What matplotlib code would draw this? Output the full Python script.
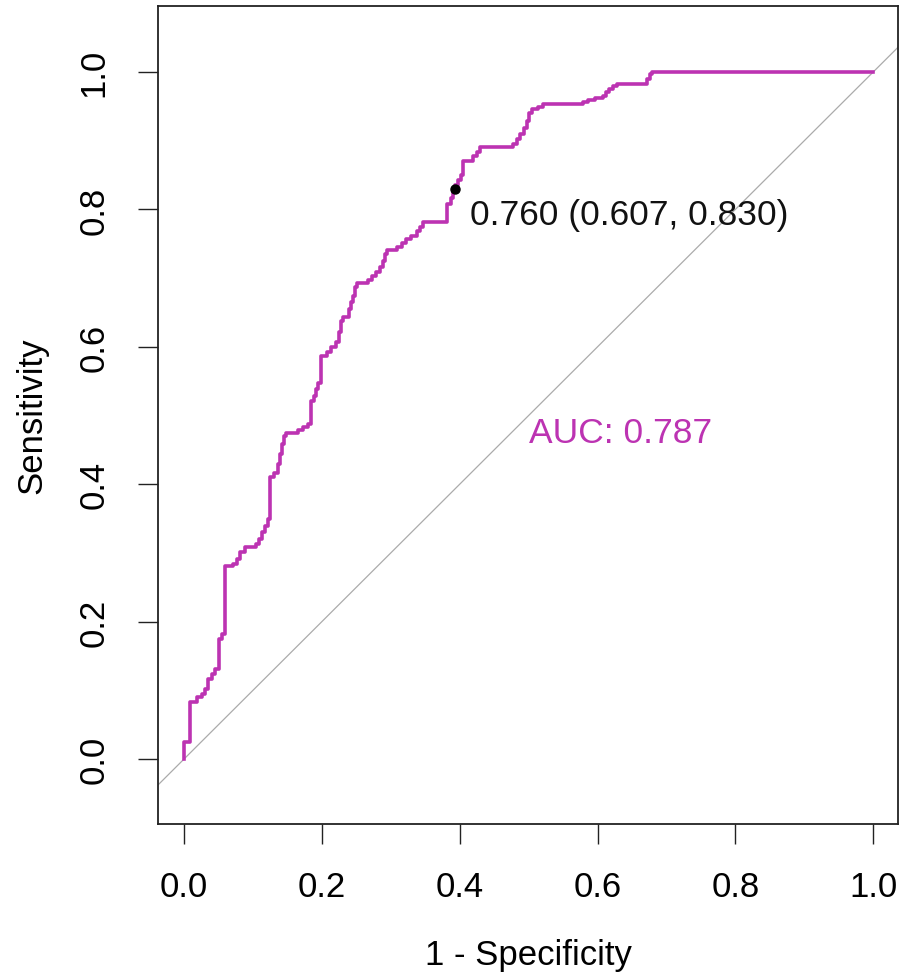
import matplotlib
matplotlib.use("Agg")
import matplotlib.pyplot as plt

plt.rcParams["font.family"] = ["Liberation Sans", "DejaVu Sans"]

# ROC curve corners (1 - specificity, sensitivity), drawn as steps
fpr = [0.0, 0.0087, 0.0189, 0.0261, 0.0305, 0.0348, 0.0406, 0.0450, 0.0508, 0.0552,
       0.0595, 0.0711, 0.0769, 0.0813, 0.0885, 0.1045, 0.1089, 0.1132, 0.1176, 0.1219,
       0.1248, 0.1306, 0.1364, 0.1393, 0.1422, 0.1451, 0.1480, 0.1655, 0.1727, 0.1800,
       0.1843, 0.1887, 0.1916, 0.1945, 0.1988, 0.2075, 0.2134, 0.2206, 0.2250, 0.2279,
       0.2308, 0.2395, 0.2424, 0.2453, 0.2482, 0.2511, 0.2671, 0.2729, 0.2787, 0.2845,
       0.2888, 0.2917, 0.2946, 0.3091, 0.3164, 0.3222, 0.3295, 0.3382, 0.3425, 0.3469,
       0.3817, 0.3875, 0.3904, 0.3933, 0.3977, 0.4020, 0.4049, 0.4194, 0.4253, 0.4296,
       0.4775, 0.4833, 0.4877, 0.4935, 0.4978, 0.5007, 0.5051, 0.5138, 0.5210, 0.5791,
       0.5864, 0.5965, 0.6081, 0.6125, 0.6168, 0.6226, 0.6284, 0.6720, 0.6763, 0.6792,
       1.0]
tpr = [0.0, 0.0247, 0.0830, 0.0902, 0.0946, 0.1019, 0.1164, 0.1237, 0.1310, 0.1747,
       0.1820, 0.2809, 0.2838, 0.2911, 0.3013, 0.3086, 0.3130, 0.3202, 0.3304, 0.3392,
       0.3493, 0.4105, 0.4163, 0.4294, 0.4440, 0.4585, 0.4702, 0.4745, 0.4789, 0.4833,
       0.4876, 0.5211, 0.5284, 0.5386, 0.5473, 0.5866, 0.5924, 0.5997, 0.6070, 0.6215,
       0.6376, 0.6434, 0.6550, 0.6652, 0.6739, 0.6870, 0.6929, 0.6972, 0.7031, 0.7089,
       0.7162, 0.7249, 0.7351, 0.7409, 0.7453, 0.7511, 0.7569, 0.7613, 0.7686, 0.7744,
       0.7817, 0.8079, 0.8166, 0.8253, 0.8355, 0.8428, 0.8501, 0.8705, 0.8777, 0.8836,
       0.8908, 0.8952, 0.9025, 0.9098, 0.9185, 0.9287, 0.9403, 0.9461, 0.9491, 0.9534,
       0.9563, 0.9592, 0.9622, 0.9651, 0.9709, 0.9753, 0.9796, 0.9825, 0.9898, 0.9971,
       1.0]

# best threshold point
best_thr = 0.760
best_spec = 0.607
best_sens = 0.830
auc = 0.787

ticks = [0.0, 0.2, 0.4, 0.6, 0.8, 1.0]
col = "#BC33B2"

fig = plt.figure(figsize=(9, 9.78), dpi=100)
ax = fig.add_axes([0.1756, 0.1564, 0.8222, 0.8364])

ax.axline((0, 0), (1, 1), color="#ABABAB", lw=0.9, zorder=1)
ax.plot(fpr, tpr, drawstyle="steps-pre", color=col, lw=2.6, zorder=2)
ax.plot([1 - best_spec], [best_sens], "o", color="black", ms=6.5, zorder=3)
ax.text(1 - best_spec + 0.022, best_sens - 0.037,
        "%.3f (%.3f, %.3f)" % (best_thr, best_spec, best_sens),
        fontsize=25.5, ha="left", va="center", color="#111111")
ax.text(0.5, 0.476, "AUC: %.3f" % auc, fontsize=25.5, ha="left", va="center", color=col)

ax.set_xlim(-0.0377, 1.036)
ax.set_ylim(-0.0946, 1.096)
ax.set_xticks(ticks)
ax.set_yticks(ticks)
ax.set_xticklabels(["%.1f" % t for t in ticks])
ax.set_yticklabels(["%.1f" % t for t in ticks], rotation=90, va="center")
ax.tick_params(length=14.4, width=1, labelsize=25, color="#222222")
ax.tick_params(axis="x", pad=19)
ax.tick_params(axis="y", pad=20)
for s in ax.spines.values():
    s.set_linewidth(1.3)
    s.set_color("#222222")

ax.set_xlabel("1 - Specificity", fontsize=25)
ax.set_ylabel("Sensitivity", fontsize=25)
ax.xaxis.set_label_coords(0.5, -0.159)
ax.xaxis.label.set_va("center")
ax.yaxis.set_label_coords(-0.170, 0.5)
ax.yaxis.label.set_va("center")

fig.savefig("out.png", dpi=100)
